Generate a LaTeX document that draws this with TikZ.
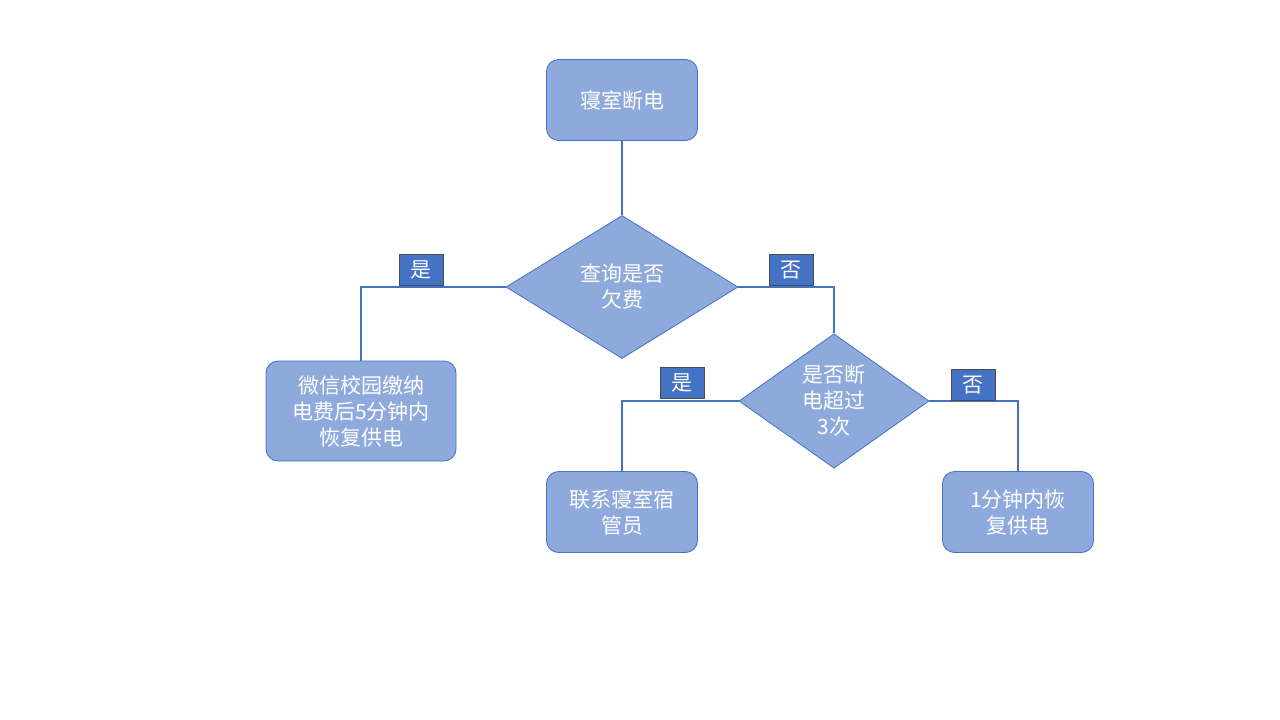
\documentclass[tikz,border=0pt]{standalone}
\usepackage{fontspec}
\newfontfamily\cjk{Noto Sans CJK SC}
\usetikzlibrary{shapes.geometric}
\definecolor{fillb}{HTML}{8EA9DB}
\definecolor{lineb}{HTML}{4472C4}
\definecolor{labb}{HTML}{4472C4}
\tikzset{
 box/.style={draw=lineb,fill=fillb,rounded corners=12pt,minimum width=151pt,minimum height=81pt,text=white,font=\cjk\fontsize{21}{26}\selectfont,align=center,inner sep=0pt,line width=0.8pt},
 dia/.style={draw=lineb,fill=fillb,diamond,inner sep=0pt,text=white,font=\cjk\fontsize{21}{26}\selectfont,align=center,line width=0.8pt},
 lab/.style={draw=black!70,fill=labb,minimum width=44pt,minimum height=31pt,inner sep=0pt,text=white,font=\cjk\fontsize{21}{26}\selectfont},
 conn/.style={draw=lineb,line width=2.5pt}
}
\begin{document}
\begin{tikzpicture}[x=1pt,y=-1pt]
\useasboundingbox[fill=white] (0,0) rectangle (1280,720);
\node[box] (a) at (622,100) {寝室断电};
\node[dia,minimum width=232pt,minimum height=143pt] (d1) at (622,287) {查询是否\\欠费};
\node[box,minimum width=190pt,minimum height=100pt] (b) at (361,411) {微信校园缴纳\\电费后5分钟内\\恢复供电};
\node[dia,minimum width=190pt,minimum height=120pt] (d2) at (834,401) {是否断\\电超过\\3次};
\node[box] (c) at (622,512) {联系寝室宿\\管员};
\node[box] (e) at (1018,512) {1分钟内恢\\复供电};
\draw[conn] (a.south) -- (d1.north);
\draw[conn] (d1.west) -| (b.north);
\draw[conn] (d1.east) -| (d2.north);
\draw[conn] (d2.west) -| (c.north);
\draw[conn] (d2.east) -| (e.north);
\node[lab] (l1) at (421,270) {是};
\node[lab] (l2) at (791,270) {否};
\node[lab] (l3) at (682,383) {是};
\node[lab] (l4) at (973,385) {否};
\end{tikzpicture}
\end{document}
